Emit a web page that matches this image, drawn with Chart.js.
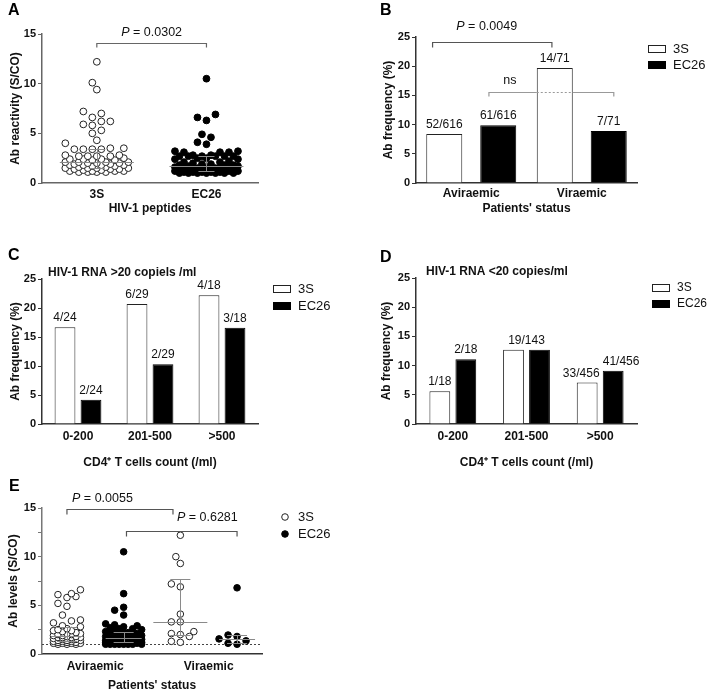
<!DOCTYPE html>
<html><head><meta charset="utf-8">
<script src="https://cdn.jsdelivr.net/npm/chart.js@4.4.1/dist/chart.umd.min.js"></script>
<style>
html,body{margin:0;padding:0;background:#fff;overflow:hidden;}
#wrap{position:relative;width:707px;height:691px;}
canvas{position:absolute;}
</style></head><body>
<div id="wrap">
<canvas id="cA" width="350" height="220" style="left:0;top:0"></canvas>
<canvas id="cB" width="357" height="220" style="left:350px;top:0"></canvas>
<canvas id="cC" width="350" height="250" style="left:0;top:220px"></canvas>
<canvas id="cD" width="357" height="250" style="left:350px;top:220px"></canvas>
<canvas id="cE" width="360" height="223" style="left:0;top:470px"></canvas>
</div>
<script>
// ================= DATA =================
// Panel A: antibody reactivity (S/CO) per peptide
const peptides = ['3S', 'EC26'];
const reactivity3S = [12.2, 10.1, 9.4, 7.2, 7.0, 6.6, 6.2, 6.2, 5.9, 5.8, 5.3, 5.0, 4.3, 4.0,
  3.5, 3.4, 3.4, 3.4, 3.4, 3.5,
  2.8, 2.7, 2.7, 2.7, 2.7, 2.8,
  2.5, 2.4, 2.4, 2.3, 2.3, 2.4,
  2.0, 2.1, 2.1, 2.0, 2.0, 2.1, 2.1,
  1.9, 1.8, 1.8, 1.7, 1.7, 1.8, 1.9, 1.8,
  1.6, 1.5, 1.5, 1.4, 1.4, 1.5, 1.6, 1.5, 1.4,
  1.3, 1.2, 1.2, 1.1, 1.1, 1.2, 1.3, 1.1, 1.2, 1.1];
const reactivityEC26 = [10.5, 6.9, 6.6, 6.3, 4.9, 4.6, 4.1, 3.9,
  3.2, 3.1, 3.1, 3.1, 3.2,
  2.8, 2.7, 2.7, 2.7, 2.7, 2.7, 2.7, 2.8,
  2.5, 2.4, 2.4, 2.5,
  2.2, 2.1, 2.0, 2.1,
  1.9, 1.8, 1.8, 1.7, 1.7, 1.8, 1.9,
  1.6, 1.5, 1.5, 1.4, 1.4, 1.5, 1.6, 1.5, 1.4, 1.5,
  1.3, 1.2, 1.2, 1.3, 1.2, 1.3, 1.2, 1.3, 1.2, 1.2,
  1.1, 1.0, 1.0, 1.1, 1.0, 1.1, 1.0, 1.0, 1.1, 1.0, 1.1, 1.0];

// Panel B: frequency by patients' status
const statusLabels = ['Aviraemic', 'Viraemic'];
const freq3S_B = [8.4, 19.7];
const freqEC26_B = [9.9, 8.9];
const counts3S_B = ['52/616', '14/71'];
const countsEC26_B = ['61/616', '7/71'];

// Panel C: HIV-1 RNA >20 copies/ml by CD4+ count
const cd4Labels = ['0-200', '201-500', '>500'];
const freq3S_C = [16.7, 20.7, 22.2];
const freqEC26_C = [4.2, 10.3, 16.6];
const counts3S_C = ['4/24', '6/29', '4/18'];
const countsEC26_C = ['2/24', '2/29', '3/18'];

// Panel D: HIV-1 RNA <20 copies/ml by CD4+ count
const freq3S_D = [5.6, 12.7, 7.1];
const freqEC26_D = [11.1, 12.7, 9.1];
const counts3S_D = ['1/18', '', '33/456'];
const countsEC26_D = ['2/18', '', '41/456'];
const countsShared_D = ['', '19/143', ''];

// Panel E: antibody levels by status
const levelsAvir3S = [6.6, 6.2, 6.1, 5.9, 5.8, 5.2, 4.9, 4.0, 3.5, 3.4, 3.2,
  2.9, 2.8, 2.6,
  2.5, 2.4, 2.3, 2.2, 2.4,
  2.1, 2.0, 1.9, 2.0, 1.9, 2.1,
  1.8, 1.7, 1.7, 1.6, 1.8, 1.7, 1.6, 1.7,
  1.5, 1.4, 1.3, 1.4, 1.5, 1.3, 1.4, 1.5, 1.3,
  1.2, 1.1, 1.0, 1.1, 1.2, 1.0, 1.1, 1.2, 1.0, 1.1];
const levelsAvirEC26 = [10.5, 6.2, 4.8, 4.5, 4.0,
  3.1, 3.0, 2.9, 2.8,
  2.7, 2.6, 2.5, 2.4, 2.6,
  2.3, 2.2, 2.1, 2.0, 2.2, 2.1, 2.0,
  1.9, 1.8, 1.7, 1.8, 1.9, 1.7, 1.8, 1.7,
  1.6, 1.5, 1.4, 1.5, 1.6, 1.4, 1.5, 1.4,
  1.3, 1.2, 1.3, 1.2, 1.3, 1.2, 1.3, 1.2, 1.2, 1.3,
  1.1, 1.0, 1.0, 1.1, 1.0, 1.1, 1.0, 1.0, 1.1, 1.0, 1.1, 1.0, 1.0, 1.1];
const levelsVir3S = [12.2, 10.0, 9.3, 7.2, 6.9, 4.1, 3.3, 3.3, 2.3, 2.1, 2.0, 1.8, 1.3, 1.2];
const levelsVirEC26 = [6.8, 1.95, 1.8, 1.55, 1.35, 1.1, 1.0];
const cutoffE = 1.0;

// ================= HELPERS =================
const FONT = "'Liberation Sans', Arial, Helvetica, sans-serif";
Chart.defaults.font.family = FONT;
Chart.defaults.color = '#111';
Chart.defaults.plugins.legend.display = false;
Chart.defaults.plugins.tooltip.enabled = false;

function quant(vals, q) {
  const s = [...vals].sort((a, b) => a - b), n = s.length;
  let p = q * (n + 1); p = Math.min(Math.max(p, 1), n);
  const lo = Math.floor(p), hi = Math.ceil(p);
  return s[lo - 1] + (p - lo) * (s[hi - 1] - s[lo - 1]);
}
// collision-based beeswarm: spreads points sideways (in px) so circles don't overlap, within a max width
function beeswarm(vals, center, pxX, pxY, step, maxOff, minD) {
  const s = [...vals].sort((a, b) => a - b), placed = [], pts = [];
  const cands = [0];
  for (let k = 1; k * step <= maxOff + 1e-9; k++) cands.push(-k * step, k * step);
  s.forEach(v => {
    const py = v * pxY;
    let best = 0, bestD = -1;
    for (const c of cands) {
      let md = Infinity;
      for (const p of placed) {
        const dy = p.py - py;
        if (Math.abs(dy) >= minD) continue;
        const d = Math.hypot(p.c - c, dy);
        if (d < md) md = d;
      }
      if (md >= minD) { best = c; break; }
      if (md > bestD) { bestD = md; best = c; }
    }
    placed.push({ c: best, py });
    pts.push({ x: center + best / pxX, y: v });
  });
  return pts;
}
function yAxis(o) {
  return {
    type: 'linear', position: 'left', min: 0, max: o.max,
    ticks: { stepSize: o.step, padding: 2, color: '#111', font: { size: 11, weight: 'bold' },
      callback: (v) => (o.labelEvery && Math.abs(v / o.labelEvery - Math.round(v / o.labelEvery)) > 1e-6) ? '' : v },
    grid: { display: true, drawOnChartArea: false, drawTicks: true, tickLength: 4, color: o.color, lineWidth: 1 },
    border: { display: true, color: o.color, width: 1.5 },
    title: { display: true, text: o.title, color: '#111', font: { size: 12, weight: 'bold' }, padding: { top: o.titlePad, bottom: 0 } },
    afterFit: (s) => { s.width = o.width; }
  };
}
function xCat(o) {
  return {
    type: 'category', offset: true,
    grid: { display: false, drawTicks: false },
    border: { display: true, color: o.color, width: 1.5 },
    ticks: { padding: o.tickPad, color: '#111', font: { size: 12, weight: 'bold' } },
    title: { display: true, text: o.title, color: '#111', font: { size: 12, weight: 'bold' }, padding: { top: 0, bottom: 0 } },
    afterFit: (s) => { s.height = o.height; }
  };
}
function xLin(o) {
  return {
    type: 'linear', min: o.min, max: o.max, bounds: 'data',
    afterBuildTicks: (s) => { s.ticks = o.ticks.map(v => ({ value: v })); },
    grid: { display: false, drawTicks: false },
    border: { display: true, color: o.color, width: 1.5 },
    ticks: { padding: o.tickPad, color: '#111', font: { size: 12, weight: 'bold' }, callback: (v, i) => o.labels[i] },
    title: { display: true, text: o.title, color: '#111', font: { size: 12, weight: 'bold' }, padding: { top: 0, bottom: 0 } },
    afterFit: (s) => { s.height = o.height; }
  };
}
function letter(ctx, t, x, y) {
  ctx.save(); ctx.fillStyle = '#000'; ctx.font = `bold 16px ${FONT}`;
  ctx.textAlign = 'left'; ctx.textBaseline = 'alphabetic'; ctx.fillText(t, x, y); ctx.restore();
}
function pText(ctx, rest, x, y, align) {
  ctx.save(); ctx.fillStyle = '#111'; ctx.textBaseline = 'middle'; ctx.textAlign = 'left';
  ctx.font = `italic 12.5px ${FONT}`; const wP = ctx.measureText('P').width;
  ctx.font = `12.5px ${FONT}`; const wR = ctx.measureText(rest).width;
  const x0 = align === 'center' ? x - (wP + wR) / 2 : x;
  ctx.font = `italic 12.5px ${FONT}`; ctx.fillText('P', x0, y);
  ctx.font = `12.5px ${FONT}`; ctx.fillText(rest, x0 + wP, y);
  ctx.restore();
}
function bracket(ctx, x1, x2, y, drop, color) {
  ctx.save(); ctx.strokeStyle = color; ctx.lineWidth = 1.2;
  y = Math.round(y) + 0.5;
  ctx.beginPath(); ctx.moveTo(x1, y + drop); ctx.lineTo(x1, y); ctx.lineTo(x2, y); ctx.lineTo(x2, y + drop); ctx.stroke();
  ctx.restore();
}
function medianIQR(ctx, xs, ys, xc, vals, hw, cap) {
  const med = quant(vals, 0.5), q1 = quant(vals, 0.25), q3 = quant(vals, 0.75);
  const px = xs.getPixelForValue(xc);
  ctx.save(); ctx.strokeStyle = '#8a8a8a'; ctx.lineWidth = 1;
  ctx.beginPath();
  const ym = Math.round(ys.getPixelForValue(med)) + 0.5;
  ctx.moveTo(px - hw, ym); ctx.lineTo(px + hw, ym);
  const y1 = Math.round(ys.getPixelForValue(q1)) + 0.5, y3 = Math.round(ys.getPixelForValue(q3)) + 0.5;
  ctx.moveTo(Math.round(px) + 0.5, y1); ctx.lineTo(Math.round(px) + 0.5, y3);
  ctx.moveTo(px - cap, y1); ctx.lineTo(px + cap, y1);
  ctx.moveTo(px - cap, y3); ctx.lineTo(px + cap, y3);
  ctx.stroke(); ctx.restore();
}
function boxLegend(chart, x, ys, fontSize) {
  const ctx = chart.ctx;
  ctx.save();
  chart.data.datasets.forEach((ds, i) => {
    const cy = ys[i];
    ctx.fillStyle = ds.backgroundColor; ctx.fillRect(x, cy - 4, 18, 8);
    ctx.strokeStyle = ds.borderColor; ctx.lineWidth = 1; ctx.strokeRect(x + 0.5, cy - 3.5, 17, 7);
    ctx.fillStyle = '#111'; ctx.font = `${fontSize}px ${FONT}`; ctx.textAlign = 'left'; ctx.textBaseline = 'middle';
    ctx.fillText(ds.label, x + 25, cy);
  });
  ctx.restore();
}
function barLabels(chart, sets, shared, aligns) {
  const ctx = chart.ctx;
  ctx.save(); ctx.fillStyle = '#111'; ctx.font = `12px ${FONT}`; ctx.textBaseline = 'alphabetic';
  sets.forEach((labels, di) => {
    const meta = chart.getDatasetMeta(di);
    labels.forEach((t, j) => {
      if (!t) return;
      const el = meta.data[j];
      const a = (aligns && aligns[di + '-' + j]) || 'center';
      ctx.textAlign = a;
      const x = a === 'right' ? el.x + el.width / 2 + 2 : a === 'left' ? el.x - el.width / 2 : el.x;
      ctx.fillText(t, x, el.y - 6);
    });
  });
  ctx.textAlign = 'center';
  if (shared) shared.forEach((t, j) => {
    if (!t) return;
    const top = Math.min(...chart.data.datasets.map((d, di) => chart.getDatasetMeta(di).data[j].y));
    ctx.fillText(t, chart.scales.x.getPixelForValue(j), top - 6);
  });
  ctx.restore();
}
function panelTitle(ctx, t, x, y) {
  ctx.save(); ctx.fillStyle = '#111'; ctx.font = `bold 12px ${FONT}`; ctx.textAlign = 'left'; ctx.textBaseline = 'middle';
  ctx.fillText(t, x, y); ctx.restore();
}
const common = { responsive: false, animation: false, devicePixelRatio: 1 };

// ================= PANEL A =================
const minA = -0.5, maxA = 1.47, pxA = 216 / (maxA - minA), pyA = 149 / 15;
new Chart(document.getElementById('cA'), {
  type: 'scatter',
  data: { datasets: [
    { label: peptides[0], data: beeswarm(reactivity3S, 0, pxA, pyA, 4.5, 34, 7.5), pointRadius: 3.4, borderWidth: 1, backgroundColor: '#fff', borderColor: '#222' },
    { label: peptides[1], data: beeswarm(reactivityEC26, 1, pxA, pyA, 4.5, 34, 7.5), pointRadius: 3.4, borderWidth: 1, backgroundColor: '#000', borderColor: '#000' }
  ] },
  options: Object.assign({}, common, {
    layout: { padding: { left: 4, top: 34, right: 92, bottom: 4 } },
    scales: {
      x: xLin({ min: minA, max: maxA, ticks: [0, 1], labels: peptides, title: 'HIV-1 peptides', color: '#666', tickPad: 4, height: 33 }),
      y: yAxis({ max: 15, step: 5, title: 'Ab reactivity (S/CO)', color: '#666', titlePad: 4, width: 38 })
    }
  }),
  plugins: [{
    id: 'annA',
    afterDatasetsDraw(chart) {
      const { ctx, scales: { x, y } } = chart;
      medianIQR(ctx, x, y, 0, reactivity3S, 37, 8);
      medianIQR(ctx, x, y, 1, reactivityEC26, 37, 8);
    },
    afterDraw(chart) {
      const { ctx, scales: { x, y } } = chart;
      letter(ctx, 'A', 8, 15);
      bracket(ctx, x.getPixelForValue(0), x.getPixelForValue(1), y.getPixelForValue(14.1), 4, '#666');
      pText(ctx, ' = 0.0302', x.getPixelForValue(0.5), y.getPixelForValue(15.1), 'center');
    }
  }]
});

// ================= PANEL B =================
new Chart(document.getElementById('cB'), {
  type: 'bar',
  data: { labels: statusLabels, datasets: [
    { label: '3S', data: freq3S_B, backgroundColor: '#fff', borderColor: '#222', borderWidth: 1, barPercentage: 0.667, categoryPercentage: 0.977 },
    { label: 'EC26', data: freqEC26_B, backgroundColor: '#000', borderColor: '#000', borderWidth: 1, barPercentage: 0.667, categoryPercentage: 0.977 }
  ] },
  options: Object.assign({}, common, {
    layout: { padding: { left: 27, top: 37, right: 70, bottom: 4 } },
    scales: {
      x: xCat({ title: "Patients' status", color: '#333', tickPad: 3, height: 33 }),
      y: yAxis({ max: 25, step: 5, title: 'Ab frequency (%)', color: '#333', titlePad: 4, width: 39 })
    }
  }),
  plugins: [{
    id: 'annB',
    afterDraw(chart) {
      const { ctx, scales: { x, y } } = chart;
      barLabels(chart, [counts3S_B, countsEC26_B]);
      letter(ctx, 'B', 30, 15);
      bracket(ctx, x.getPixelForValue(-0.35), x.getPixelForValue(0.73), y.getPixelForValue(24.1), 5, '#555');
      pText(ctx, ' = 0.0049', x.getPixelForValue(0.14), y.getPixelForValue(26.8), 'center');
      // ns bracket, dotted where it crosses the Viraemic 3S bar
      const el = chart.getDatasetMeta(0).data[1];
      const bx0 = el.x - el.width / 2, bx1 = el.x + el.width / 2;
      const x1 = x.getPixelForValue(0.16), x2 = x.getPixelForValue(1.29);
      const yy = Math.round(y.getPixelForValue(15.6)) + 0.5;
      ctx.save(); ctx.strokeStyle = '#999'; ctx.lineWidth = 1.2;
      ctx.beginPath(); ctx.moveTo(x1, yy + 4); ctx.lineTo(x1, yy); ctx.lineTo(bx0, yy);
      ctx.moveTo(bx1, yy); ctx.lineTo(x2, yy); ctx.lineTo(x2, yy + 4); ctx.stroke();
      ctx.setLineDash([2, 2]); ctx.beginPath(); ctx.moveTo(bx0, yy); ctx.lineTo(bx1, yy); ctx.stroke();
      ctx.restore();
      ctx.save(); ctx.fillStyle = '#111'; ctx.font = `12.5px ${FONT}`; ctx.textAlign = 'center'; ctx.textBaseline = 'middle';
      ctx.fillText('ns', x.getPixelForValue(0.35), y.getPixelForValue(17.5)); ctx.restore();
      boxLegend(chart, 298, [49, 65], 13);
    }
  }]
});

// ================= PANEL C =================
new Chart(document.getElementById('cC'), {
  type: 'bar',
  data: { labels: cd4Labels, datasets: [
    { label: '3S', data: freq3S_C, backgroundColor: '#fff', borderColor: '#222', borderWidth: 1, barPercentage: 0.8, categoryPercentage: 0.722 },
    { label: 'EC26', data: freqEC26_C, backgroundColor: '#000', borderColor: '#000', borderWidth: 1, barPercentage: 0.8, categoryPercentage: 0.722 }
  ] },
  options: Object.assign({}, common, {
    layout: { padding: { left: 4, top: 59, right: 92, bottom: 0 } },
    scales: {
      x: xCat({ title: 'CD4\u207A T cells count (/ml)', color: '#333', tickPad: 5, height: 46 }),
      y: yAxis({ max: 25, step: 5, title: 'Ab frequency (%)', color: '#333', titlePad: 4, width: 38 })
    }
  }),
  plugins: [{
    id: 'annC',
    afterDraw(chart) {
      const { ctx } = chart;
      barLabels(chart, [counts3S_C, countsEC26_C]);
      letter(ctx, 'C', 8, 40);
      panelTitle(ctx, 'HIV-1 RNA >20 copiels /ml', 48, 53);
      boxLegend(chart, 273, [69, 86], 13);
    }
  }]
});

// ================= PANEL D =================
new Chart(document.getElementById('cD'), {
  type: 'bar',
  data: { labels: cd4Labels, datasets: [
    { label: '3S', data: freq3S_D, backgroundColor: '#fff', borderColor: '#222', borderWidth: 1, barPercentage: 0.8, categoryPercentage: 0.706 },
    { label: 'EC26', data: freqEC26_D, backgroundColor: '#000', borderColor: '#000', borderWidth: 1, barPercentage: 0.8, categoryPercentage: 0.706 }
  ] },
  options: Object.assign({}, common, {
    layout: { padding: { left: 25, top: 58, right: 70, bottom: 0 } },
    scales: {
      x: xCat({ title: 'CD4\u207A T cells count (/ml)', color: '#333', tickPad: 5, height: 46 }),
      y: yAxis({ max: 25, step: 5, title: 'Ab frequency (%)', color: '#333', titlePad: 4, width: 41 })
    }
  }),
  plugins: [{
    id: 'annD',
    afterDraw(chart) {
      const { ctx } = chart;
      barLabels(chart, [counts3S_D, countsEC26_D], countsShared_D, { '0-2': 'right', '1-2': 'left' });
      letter(ctx, 'D', 30, 42);
      panelTitle(ctx, 'HIV-1 RNA <20 copies/ml', 76, 52);
      boxLegend(chart, 302, [68, 84], 12);
    }
  }]
});

// ================= PANEL E =================
const minE = -0.44, maxE = 3.44, pxE = 220 / (maxE - minE), pyE = 146 / 15;
const groupsE = [levelsAvir3S, levelsAvirEC26, levelsVir3S, levelsVirEC26];
new Chart(document.getElementById('cE'), {
  type: 'scatter',
  data: { datasets: [
    { label: '3S', data: beeswarm(levelsAvir3S, 0, pxE, pyE, 4.5, 13.5, 7.5).concat(beeswarm(levelsVir3S, 2, pxE, pyE, 4.5, 13.5, 7.5)), pointRadius: 3.3, borderWidth: 1, backgroundColor: '#fff', borderColor: '#222' },
    { label: 'EC26', data: beeswarm(levelsAvirEC26, 1, pxE, pyE, 4.5, 18, 7.5).concat(beeswarm(levelsVirEC26, 3, pxE, pyE, 4.5, 18, 7.5)), pointRadius: 3.3, borderWidth: 1, backgroundColor: '#000', borderColor: '#000' }
  ] },
  options: Object.assign({}, common, {
    layout: { padding: { left: 2, top: 38, right: 98, bottom: 0 } },
    scales: {
      x: xLin({ min: minE, max: maxE, ticks: [0.5, 2.5], labels: statusLabels, title: "Patients' status", color: '#333', tickPad: 5, height: 39 }),
      y: yAxis({ max: 15, step: 2.5, labelEvery: 5, title: 'Ab levels (S/CO)', color: '#777', titlePad: 4, width: 40 })
    }
  }),
  plugins: [{
    id: 'annE',
    beforeDatasetsDraw(chart) {
      const { ctx, chartArea, scales: { y } } = chart;
      const yy = Math.round(y.getPixelForValue(cutoffE)) + 0.5;
      ctx.save(); ctx.strokeStyle = '#444'; ctx.lineWidth = 1; ctx.setLineDash([2, 2]);
      ctx.beginPath(); ctx.moveTo(chartArea.left, yy); ctx.lineTo(chartArea.right, yy); ctx.stroke(); ctx.restore();
    },
    afterDatasetsDraw(chart) {
      const { ctx, scales: { x, y } } = chart;
      const hw = [16, 18, 27, 18];
      groupsE.forEach((g, i) => medianIQR(ctx, x, y, i, g, hw[i], 10));
    },
    afterDraw(chart) {
      const { ctx, scales: { x, y } } = chart;
      letter(ctx, 'E', 9, 21);
      bracket(ctx, x.getPixelForValue(0), x.getPixelForValue(1.87), y.getPixelForValue(14.9), 5, '#555');
      pText(ctx, ' = 0.0055', x.getPixelForValue(0.09), y.getPixelForValue(16.0), 'left');
      bracket(ctx, x.getPixelForValue(1.05), x.getPixelForValue(3), y.getPixelForValue(12.6), 5, '#555');
      pText(ctx, ' = 0.6281', x.getPixelForValue(1.94), y.getPixelForValue(14.0), 'left');
      // legend
      ctx.save();
      chart.data.datasets.forEach((ds, i) => {
        const cy = [47, 64][i];
        ctx.beginPath(); ctx.arc(285, cy, 3.3, 0, Math.PI * 2);
        ctx.fillStyle = ds.backgroundColor; ctx.fill(); ctx.strokeStyle = ds.borderColor; ctx.lineWidth = 1; ctx.stroke();
        ctx.fillStyle = '#111'; ctx.font = `13px ${FONT}`; ctx.textAlign = 'left'; ctx.textBaseline = 'middle';
        ctx.fillText(ds.label, 298, cy);
      });
      ctx.restore();
    }
  }]
});
</script>
</body></html>
